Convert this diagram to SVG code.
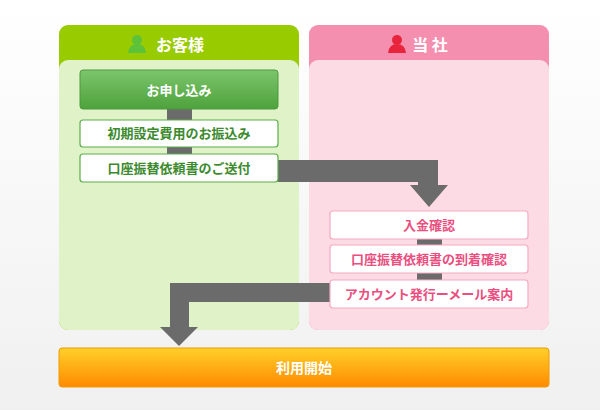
<svg xmlns="http://www.w3.org/2000/svg" width="600" height="410" viewBox="0 0 600 410">
<defs>
<linearGradient id="gb" x1="0" y1="0" x2="0" y2="1"><stop offset="0" stop-color="#7cc56c"/><stop offset="1" stop-color="#4ea23c"/></linearGradient>
<linearGradient id="ob" x1="0" y1="0" x2="0" y2="1"><stop offset="0" stop-color="#ffd02a"/><stop offset="1" stop-color="#ff8a00"/></linearGradient>
<linearGradient id="bg" x1="0" y1="0" x2="0" y2="1"><stop offset="0" stop-color="#ffffff"/><stop offset="1" stop-color="#f0f0f0"/></linearGradient>
<style>
text{font-family:"Noto Sans CJK JP",sans-serif;font-weight:bold;text-anchor:middle}
.gw{fill:#fff;stroke:#5aae48;stroke-width:1.2}
.pw{fill:#fff;stroke:#f6a9c1;stroke-width:1.2}
.gt{fill:#3c8a2e;font-size:13px}
.pt{fill:#ea4f7f;font-size:13px}
.ar{fill:#6b6b6b}
</style>
</defs>
<rect width="600" height="410" fill="url(#bg)"/>
<g id="customer">
<rect x="59" y="25" width="240" height="305" rx="9" fill="#99cc00"/>
<rect x="59" y="60" width="240" height="270" rx="9" fill="#dff2c8"/>
<circle cx="137" cy="40" r="5" fill="#5cc23a"/><path d="M128 53 q1-9 9-9 q8 0 9 9z" fill="#5cc23a"/>
<text x="180" y="51" fill="#fff" font-size="16">お客様</text>
</g>
<g id="company">
<rect x="309" y="25" width="240" height="305" rx="9" fill="#f58fb0"/>
<rect x="309" y="60" width="240" height="270" rx="9" fill="#fcdbe4"/>
<circle cx="397" cy="40" r="5" fill="#e8243c"/><path d="M388 53 q1-9 9-9 q8 0 9 9z" fill="#e8243c"/>
<text x="430" y="51" fill="#fff" font-size="16">当 社</text>
</g>
<g id="connectors">
<rect class="ar" x="167" y="109" width="25" height="11"/>
<rect class="ar" x="167" y="147" width="25" height="7"/>
<path class="ar" d="M278 160 H438 V185 H448 L429 207 L410 185 H418 V182 H278Z"/>
<rect class="ar" x="417" y="239" width="25" height="6"/>
<rect class="ar" x="417" y="273" width="25" height="7"/>
<path class="ar" d="M330 283 H170 V327 H160 L179 346 L198 327 H189 V302 H330Z"/>
</g>
<g id="apply"><rect x="80" y="70" width="198" height="39" rx="3" fill="url(#gb)" stroke="#4c9a3a"/><text x="179" y="95" fill="#fff" font-size="13">お申し込み</text></g>
<g id="fee"><rect class="gw" x="80" y="120" width="198" height="27" rx="3"/><text class="gt" x="179" y="138">初期設定費用のお振込み</text></g>
<g id="send"><rect class="gw" x="80" y="154" width="198" height="28" rx="3"/><text class="gt" x="179" y="173">口座振替依頼書のご送付</text></g>
<g id="confirm"><rect class="pw" x="330" y="211" width="198" height="28" rx="3"/><text class="pt" x="429" y="230">入金確認</text></g>
<g id="arrival"><rect class="pw" x="330" y="245" width="198" height="28" rx="3"/><text class="pt" x="429" y="264">口座振替依頼書の到着確認</text></g>
<g id="account"><rect class="pw" x="330" y="280" width="198" height="28" rx="3"/><text class="pt" x="429" y="299">アカウント発行ーメール案内</text></g>
<g id="start"><rect x="59" y="348" width="490" height="39" rx="3" fill="url(#ob)" stroke="#f29a00"/><text x="304" y="373" fill="#fff" font-size="14">利用開始</text></g>
</svg>
